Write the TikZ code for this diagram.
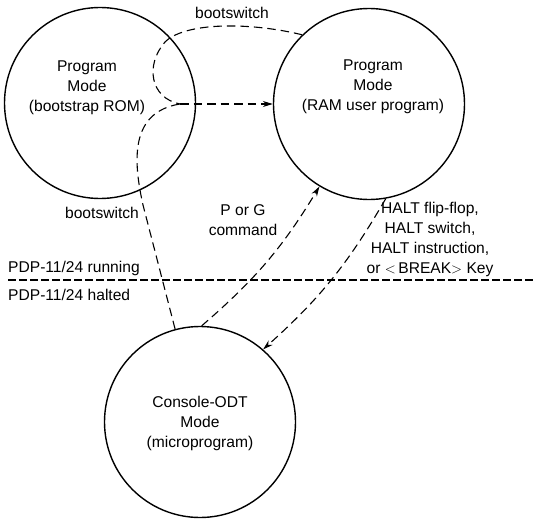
\documentclass[tikz,border=0pt]{standalone}
\usepackage{fontspec}
\setmainfont{Liberation Sans}
\usetikzlibrary{arrows.meta}
\tikzset{
  mode/.style = {draw, circle, line width = 1.4pt, minimum size = 191pt, inner sep = 0pt},
  trans/.style = {dash pattern = on 8.5pt off 5pt, line width = 1.1pt},
  divider/.style = {dash pattern = on 8pt off 3pt, line width = 1.1pt},
  tip/.style = {-{Stealth[length = 10pt, width = 6pt]}}
}
\begin{document}
\begin{tikzpicture}[x = 1pt, y = -1pt, font = \fontsize{15.6}{20}\selectfont]
\useasboundingbox (0,0) rectangle (535,519);
\node[mode] (rom) at (100,103) {};
\node[mode] (ram) at (369,104) {};
\node[mode] (odt) at (200,422) {};
\node[align = center] (romtext) at (87,88) {Program\\Mode\\(bootstrap ROM)};
\node[align = center] (ramtext) at (373,87) {Program\\Mode\\(RAM user program)};
\node[align = center] (odttext) at (200,423) {Console-ODT\\Mode\\(microprogram)};

\coordinate (cusp) at (180,104);
\coordinate (bend) at (143,205);
\coordinate (loop) at (165,42);
\draw[trans] (odt.105) -- (bend) .. controls (133,160) and (130,112) .. (cusp);
\draw[trans] (ram.134) .. controls (250,22) and (185,22) .. (loop) .. controls (145,65) and (150,98) .. (cusp);
\draw[trans, tip] (cusp) -- (ram.west);
\draw[trans, tip] (odt.89) to[bend right = 9] (ram.239);
\draw[trans, tip] (ram.280) to[bend left = 9] (odt.49);

\coordinate (divl) at (8,280);
\coordinate (divr) at (535,280);
\draw[divider] (divl) -- (divr);

\node (topboot) at (232,13) {bootswitch};
\node (leftboot) at (102,213) {bootswitch};
\node[align = center] (pg) at (243,220) {P or G\\command};
\node[align = center] (halt) at (430,239) {HALT flip-flop,\\HALT switch,\\HALT instruction,\\or $<$\,BREAK$>$ Key};
\node[anchor = west, inner sep = 0pt] (running) at (8,268) {PDP-11/24 running};
\node[anchor = west, inner sep = 0pt] (halted) at (8,295) {PDP-11/24 halted};
\end{tikzpicture}
\end{document}
